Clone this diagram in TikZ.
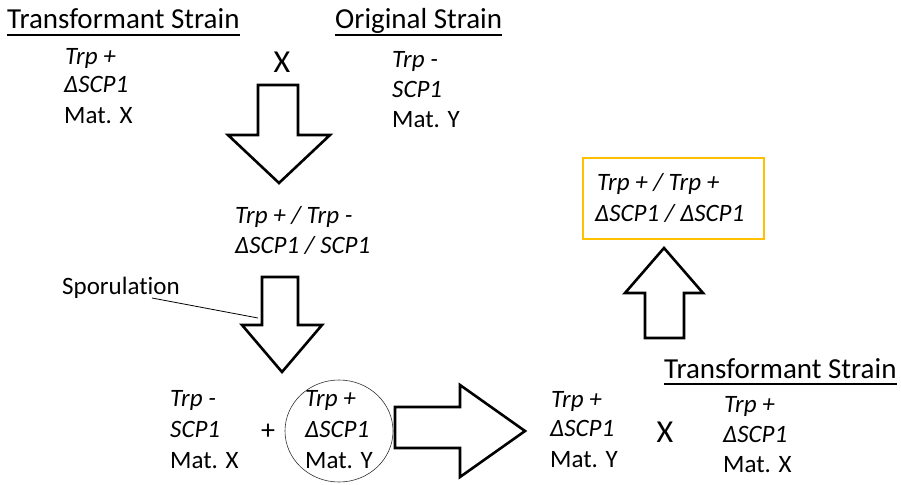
\documentclass[tikz,border=0pt]{standalone}
\usepackage{fontspec}
\setmainfont{Carlito}[Ligatures={NoCommon}]
\definecolor{gold}{HTML}{FFC000}
\begin{document}
\begin{tikzpicture}[x=1pt,y=-1pt,
  txt/.style={anchor=base west,inner sep=0pt,font=\fontsize{25}{30}\selectfont},
  ttl/.style={anchor=base west,inner sep=0pt,font=\fontsize{29}{34}\selectfont},
  bigx/.style={anchor=center,inner sep=0pt,font=\fontsize{32}{36}\selectfont},
  blockarrow/.style={draw=black,line width=2.6pt,fill=white,line join=miter},
  uline/.style={draw=black,line width=1.3pt}]
\useasboundingbox (0,0) rectangle (901,484);
% titles
\node[ttl] (t1) at (7,29) {Transformant Strain};
\draw[uline] (7,35) -- (t1.base east |- 0,35);
\node[ttl] (t2) at (335,29) {Original Strain};
\draw[uline] (335,35) -- (t2.base east |- 0,35);
\node[ttl] (t3) at (664,378) {Transformant Strain};
\draw[uline] (664,384) -- (t3.base east |- 0,384);
% top left strain
\node[txt] (a1) at (65,65) {\itshape Trp +};
\node[txt] (a2) at (64,93) {\itshape ΔSCP1};
\node[txt] (a3) at (64,123) {Mat. X};
\node[bigx] (x1) at (282,62) {X};
% top right strain
\node[txt] (b1) at (392,68) {\itshape Trp -};
\node[txt] (b2) at (392,98) {\itshape SCP1};
\node[txt] (b3) at (392,128) {Mat. Y};
% diploid
\node[txt] (c1) at (235,223) {\itshape Trp + / Trp -};
\node[txt] (c2) at (235,253) {\itshape ΔSCP1 / SCP1};
% sporulation
\node[txt] (sp) at (62,294) {Sporulation};
\coordinate (spend) at (258,318);
\draw[line width=0.8pt] (152,298) -- (spend);
% arrow 1
\draw[blockarrow] (258,85) -- (298,85) -- (298,135) -- (330,135) -- (279,183) -- (228,135) -- (258,135) -- cycle;
% arrow 2
\draw[blockarrow] (262,277) -- (298,277) -- (298,325) -- (322,325) -- (282,372) -- (242,325) -- (262,325) -- cycle;
% bottom left spore
\node[txt] (d1) at (170,406) {\itshape Trp -};
\node[txt] (d2) at (170,437) {\itshape SCP1};
\node[txt] (d3) at (170,468) {Mat. X};
\node[bigx,font=\fontsize{28}{32}\selectfont] (plus) at (268,432) {+};
% circled spore
\draw[line width=0.6pt,draw=black!80] (339,431) ellipse [x radius=54, y radius=51];
\node[txt] (e1) at (305,406) {\itshape Trp +};
\node[txt] (e2) at (305,437) {\itshape ΔSCP1};
\node[txt] (e3) at (305,468) {Mat. Y};
% arrow 3
\draw[blockarrow] (395,407) -- (460,407) -- (460,385) -- (525,431) -- (460,477) -- (460,448) -- (395,448) -- cycle;
% right spore
\node[txt] (f1) at (551,407) {\itshape Trp +};
\node[txt] (f2) at (550,436) {\itshape ΔSCP1};
\node[txt] (f3) at (550,467) {Mat. Y};
\node[bigx] (x2) at (665,432) {X};
% transformant bottom
\node[txt] (g1) at (724,412) {\itshape Trp +};
\node[txt] (g2) at (723,442) {\itshape ΔSCP1};
\node[txt] (g3) at (723,472) {Mat. X};
% arrow 4
\draw[blockarrow] (645,338) -- (684,338) -- (684,293) -- (703,293) -- (664,248) -- (625,293) -- (645,293) -- cycle;
% yellow box
\draw[gold,line width=2.6pt] (583,158) rectangle (764,239);
\node[txt] (h1) at (597,190) {\itshape Trp + / Trp +};
\node[txt] (h2) at (595,221) {\itshape ΔSCP1 / ΔSCP1};
\end{tikzpicture}
\end{document}
